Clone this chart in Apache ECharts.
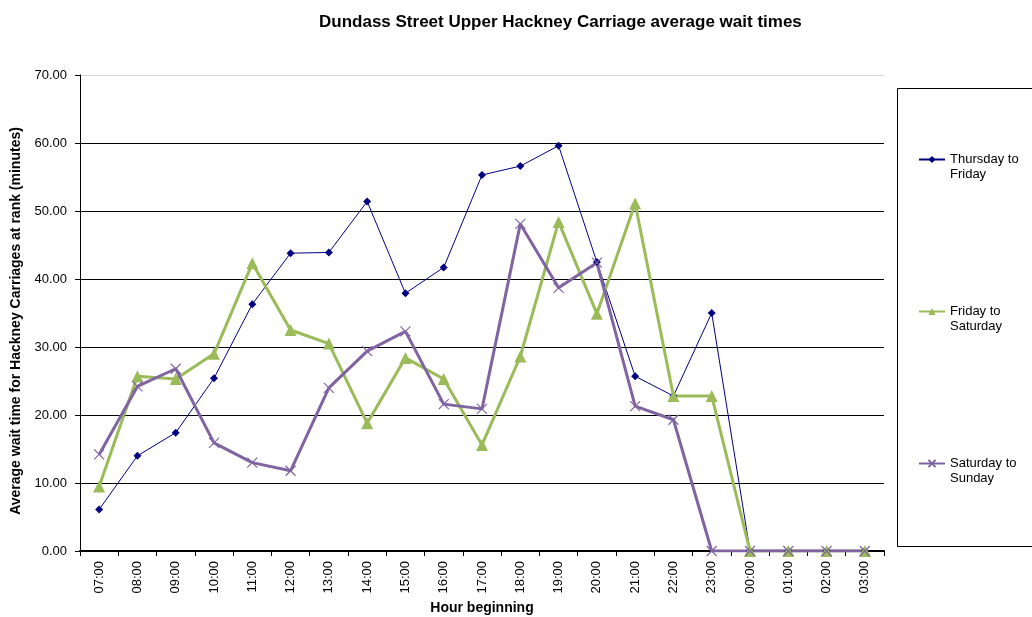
<!DOCTYPE html>
<html>
<head>
<meta charset="utf-8">
<script src="https://cdn.jsdelivr.net/npm/echarts@6/dist/echarts.min.js"></script>
<style>
  html, body { margin: 0; padding: 0; background: #fff; }
  #chart { width: 1032px; height: 617px; }
</style>
</head>
<body>
<div id="chart"></div>
<script>
// hours along the x axis
const hours = ['07:00', '08:00', '09:00', '10:00', '11:00', '12:00', '13:00', '14:00', '15:00', '16:00',
  '17:00', '18:00', '19:00', '20:00', '21:00', '22:00', '23:00', '00:00', '01:00', '02:00', '03:00'];

// average wait times (minutes)
const thuFri = [6.1, 14.0, 17.4, 25.4, 36.3, 43.8, 43.9, 51.4, 37.9, 41.7,
  55.3, 56.6, 59.6, 42.5, 25.7, 22.8, 35.0, 0, 0, 0, 0];
const friSat = [9.5, 25.7, 25.3, 29.0, 42.3, 32.5, 30.5, 18.8, 28.4, 25.3,
  15.6, 28.6, 48.4, 34.9, 51.1, 22.8, 22.8, 0, 0, 0, 0];
const satSun = [14.2, 24.2, 26.8, 15.9, 13.0, 11.8, 24.0, 29.4, 32.3, 21.6,
  20.9, 48.1, 38.7, 42.4, 21.3, 19.3, 0, 0, 0, 0, 0];

const seriesNames = ['Thursday to Friday', 'Friday to Saturday', 'Saturday to Sunday'];
// leading blank line keeps the legend icon level with the first text line
const legendText = {
  'Thursday to Friday': '\nThursday to\nFriday',
  'Friday to Saturday': '\nFriday to\nSaturday',
  'Saturday to Sunday': '\nSaturday to\nSunday'
};

const font = 'Liberation Sans, Arial, sans-serif';
const chart = echarts.init(document.getElementById('chart'));

const option = {
  animation: false,
  backgroundColor: '#fff',
  textStyle: { fontFamily: font },
  title: {
    text: 'Dundass Street Upper Hackney Carriage average wait times',
    left: 314,
    top: 9,
    textStyle: { fontFamily: font, fontSize: 17, fontWeight: 'bold', color: '#000' }
  },
  grid: { left: 80, right: 148, top: 75, bottom: 66, outerBoundsMode: 'none', containLabel: false },
  // legend frame
  graphic: [{
    type: 'rect',
    left: 897, top: 88,
    shape: { width: 140, height: 458 },
    style: { fill: '#fff', stroke: '#000', lineWidth: 1 },
    z: -1
  }],
  legend: {
    orient: 'vertical',
    left: 918,
    top: 137,
    padding: 0,
    itemGap: 107,
    itemWidth: 26,
    itemHeight: 9,
    data: seriesNames,
    formatter: function (name) { return legendText[name]; },
    textStyle: { fontFamily: font, fontSize: 13, color: '#000', lineHeight: 15 }
  },
  xAxis: {
    type: 'category',
    data: hours,
    boundaryGap: true,
    name: 'Hour beginning',
    nameLocation: 'middle',
    nameGap: 47,
    nameTextStyle: { fontFamily: font, fontSize: 14, fontWeight: 'bold', color: '#000' },
    axisLine: { lineStyle: { color: '#000', width: 2 } },
    axisTick: { show: true, alignWithLabel: false, length: 5, lineStyle: { color: '#000' } },
    axisLabel: { rotate: 90, fontFamily: font, fontSize: 13, color: '#000', margin: 10 },
    splitLine: { show: false }
  },
  yAxis: {
    type: 'value',
    min: 0,
    max: 70,
    interval: 10,
    name: 'Average wait time for Hackney Carriages at rank (minutes)',
    nameLocation: 'middle',
    nameGap: 56,
    nameTextStyle: {
      fontFamily: font, fontSize: 14, fontWeight: 'bold', color: '#000',
      padding: [0, 16, 0, 0]
    },
    axisLine: { show: true, lineStyle: { color: '#000', width: 1 } },
    axisTick: { show: true, length: 5, lineStyle: { color: '#000' } },
    axisLabel: {
      fontFamily: font, fontSize: 13, color: '#000', margin: 13,
      formatter: function (v) { return v.toFixed(2); }
    },
    splitLine: {
      show: true,
      lineStyle: { color: ['#000', '#000', '#000', '#000', '#000', '#000', '#000', '#d8d8d8'], width: 1 }
    }
  },
  series: [
    {
      name: seriesNames[0],
      type: 'line',
      data: thuFri,
      symbol: 'diamond',
      symbolSize: 8,
      lineStyle: { color: '#000080', width: 1 },
      itemStyle: { color: '#000080' }
    },
    {
      name: seriesNames[1],
      type: 'line',
      data: friSat,
      symbol: 'triangle',
      symbolSize: 12,
      lineStyle: { color: '#9BBB59', width: 3 },
      itemStyle: { color: '#9BBB59' }
    },
    {
      name: seriesNames[2],
      type: 'line',
      data: satSun,
      symbol: 'path://M0,0 L10,10 M10,0 L0,10',
      symbolSize: 10,
      lineStyle: { color: '#8064A2', width: 3 },
      itemStyle: { color: '#8064A2', borderColor: '#8064A2', borderWidth: 1.2 }
    }
  ]
};

chart.setOption(option);
</script>
</body>
</html>
